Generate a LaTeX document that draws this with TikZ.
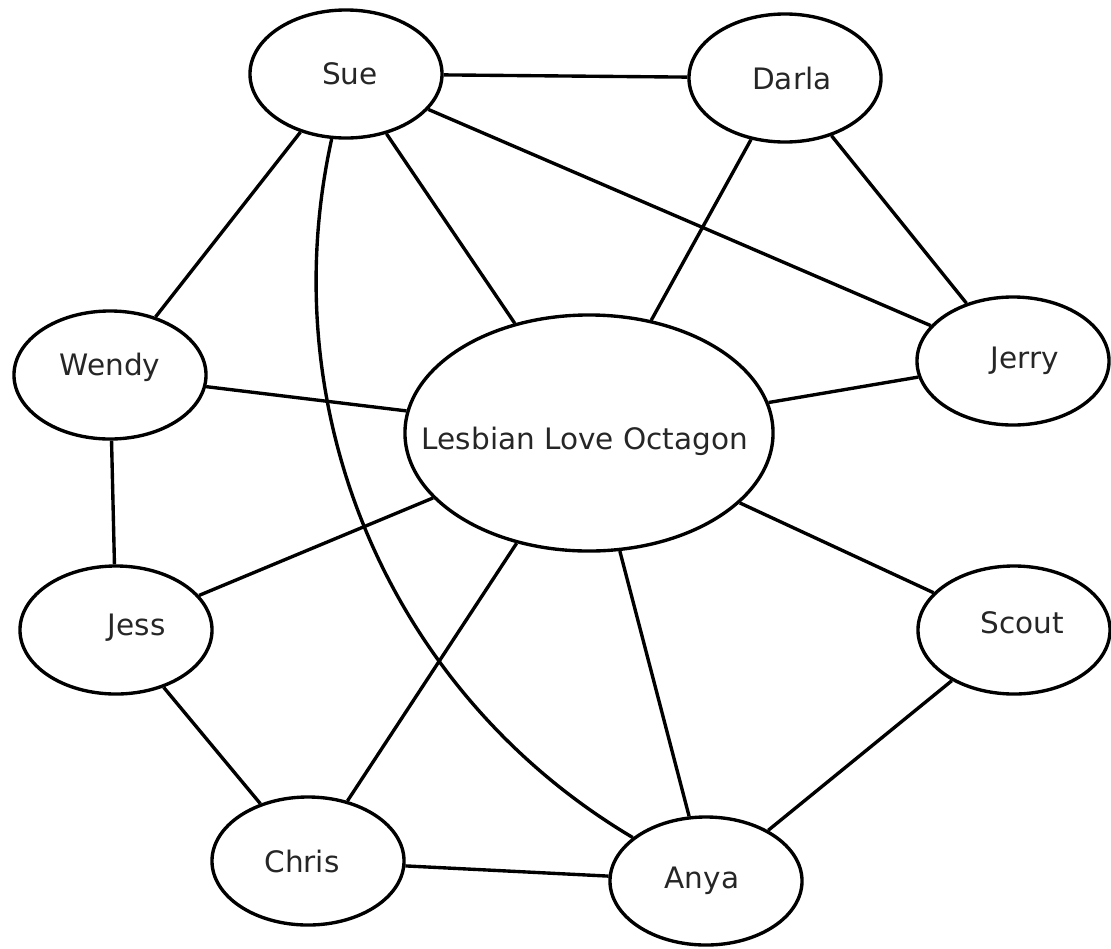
\documentclass[tikz,border=0pt]{standalone}
\usepackage{fontspec}
\setmainfont{DejaVu Sans}
\usetikzlibrary{shapes.geometric}

\begin{document}
\begin{tikzpicture}
[x=0.025cm,y=-0.025cm,
 pers/.style={ellipse,draw,line width=2.4pt,inner sep=0pt,
   minimum width=4.8cm,minimum height=3.2cm},
 every label/.style={inner sep=0pt,text=black!85,
   font=\fontsize{21}{25}\selectfont},
 link/.style={line width=2.4pt}]
    \useasboundingbox (0,0) rectangle (1111,948);
    \node[pers,label={[xshift=0.1cm]center:Sue}] (sue) at (346,74) {};
    \node[pers,label={[xshift=0.17cm]center:Darla}] (darla) at (785,78) {};
    \node[pers,label={[yshift=0.2cm]center:Wendy}] (wendy) at (110,375) {};
    \node[pers,minimum width=9.2cm,minimum height=5.9cm,
        label={[xshift=-0.1cm,yshift=-0.22cm]center:Lesbian Love Octagon}]
        (llo) at (589,433) {};
    \node[pers,label={[xshift=0.3cm]center:Jerry}] (jerry) at (1013,361) {};
    \node[pers,label={[xshift=0.52cm,yshift=0.07cm]center:Jess}] (jess) at (116,630) {};
    \node[pers,label={[xshift=0.2cm,yshift=0.17cm]center:Scout}] (scout) at (1014,630) {};
    \node[pers,label={[xshift=-0.15cm]center:Chris}] (chris) at (308,861) {};
    \node[pers,label={[xshift=-0.1cm]center:Anya}] (anya) at (706,881) {};
    \foreach \a/\b in {sue/darla,sue/jerry,sue/llo,sue/wendy,
                       darla/llo,darla/jerry,wendy/llo,wendy/jess,
                       llo/jerry,llo/jess,llo/chris,llo/anya,llo/scout,
                       jess/chris,chris/anya,scout/anya}
        \draw[link] (\a) -- (\b);
    \draw[link] (sue) .. controls (271,414) and (391,694) .. (anya);
\end{tikzpicture}
\end{document}
